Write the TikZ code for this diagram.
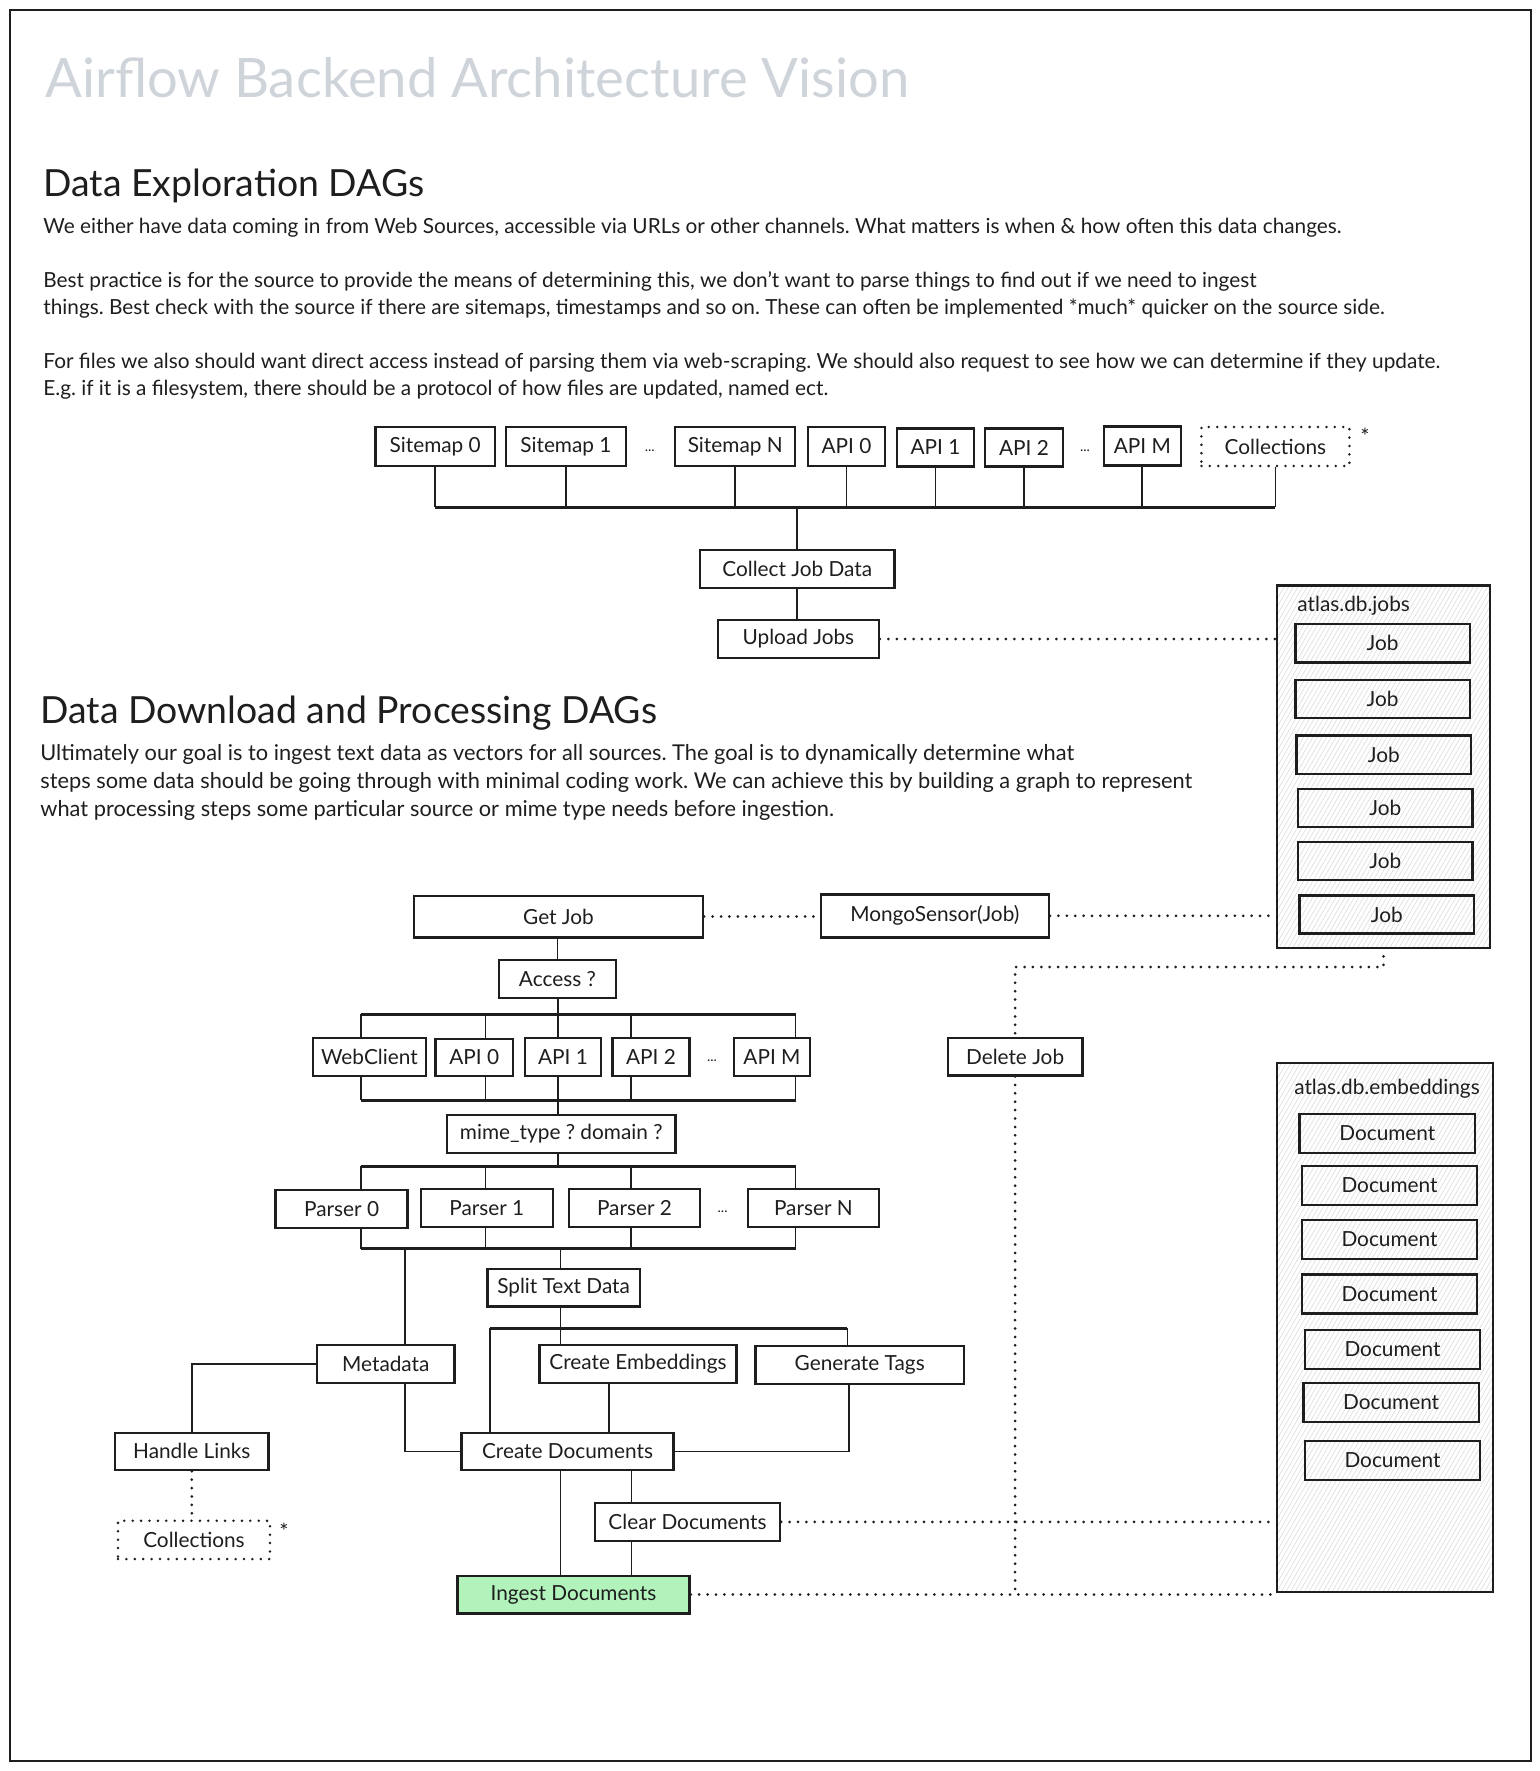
\documentclass[tikz,border=0pt]{standalone}
\usepackage{fontspec}
\setmainfont{Lato}
\usepackage{tikz}
\usetikzlibrary{positioning,calc,patterns.meta}
\definecolor{ink}{HTML}{1E1E1E}
\definecolor{titlegray}{HTML}{CED4DA}
\definecolor{ingest}{HTML}{B2F2BB}
\definecolor{hatch}{HTML}{DEDEDE}
\newcommand\titlefont{\fontsize{27.2pt}{32pt}\selectfont}
\newcommand\headfont{\fontsize{18.7pt}{22pt}\selectfont}
\newcommand\bodyfont{\fontsize{10.4pt}{12.5pt}\selectfont}
\newcommand\introfont{\fontsize{10.9pt}{13pt}\selectfont}
\newcommand\gapfont{\fontsize{7pt}{8pt}\selectfont}
\frenchspacing

\begin{document}
\begin{tikzpicture}[
  x=0.5pt, y=-0.5pt,
  txt/.style = {text=ink, inner sep=0pt, font=\bodyfont},
  box/.style = {
    draw=ink,
    line width=1.2pt,
    text=ink,
    inner sep=0pt,
    font=\bodyfont,
  },
  boxw/.style = {minimum width=#1*0.5pt},
  boxh/.style = {minimum height=#1*0.5pt},
  dotbox/.style = {box, line cap=round, dash pattern=on 0pt off 4.2pt, line width=1.4pt},
  db/.style = {
    draw=ink,
    line width=1.3pt,
    pattern={Lines[angle=60,distance=2pt,line width=0.35pt]},
    pattern color=hatch,
  },
  link/.style = {draw=ink, line width=0.9pt},
  bus/.style = {draw=ink, line width=1.5pt},
  dotline/.style = {draw=ink, line width=1.5pt, line cap=round, dash pattern=on 0pt off 4.2pt},
]

  \useasboundingbox (0,0) rectangle (1540,1771);
  \draw[ink, line width=1pt] (10,10) rectangle (1531,1761);

  % texts
  \node[txt, anchor=base west, text=titlegray, font=\titlefont] (title) at (45,97.5) {Airflow Backend Architecture Vision};
  \node[txt, anchor=base west, font=\headfont] (head1) at (43,196.8) {Data Exploration DAGs};
  \node[txt, anchor=base west] (l1) at (43,234) {We either have data coming in from Web Sources, accessible via URLs or other channels. What matters is when \& how often this data changes.};
  \node[txt, anchor=base west] (l2) at (43,287.3) {Best practice is for the source to provide the means of determining this, we don't want to parse things to find out if we need to ingest};
  \node[txt, anchor=base west] (l3) at (43,314.3) {things. Best check with the source if there are sitemaps, timestamps and so on. These can often be implemented *much* quicker on the source side.};
  \node[txt, anchor=base west] (l4) at (43,368.6) {For files we also should want direct access instead of parsing them via web-scraping. We should also request to see how we can determine if they update.};
  \node[txt, anchor=base west] (l5) at (43,395.6) {E.g. if it is a filesystem, there should be a protocol of how files are updated, named ect.};

  \node[txt, anchor=base west, font=\headfont] (head2) at (40,723.8) {Data Download and Processing DAGs};
  \node[txt, anchor=base west, font=\introfont] (m1) at (40,760) {Ultimately our goal is to ingest text data as vectors for all sources. The goal is to dynamically determine what};
  \node[txt, anchor=base west, font=\introfont] (m2) at (40,788.3) {steps some data should be going through with minimal coding work. We can achieve this by building a graph to represent};
  \node[txt, anchor=base west, font=\introfont] (m3) at (40,816.6) {what processing steps some particular source or mime type needs before ingestion.};

  % exploration sources
  \node[box, boxw=119.3, boxh=39] (s0) at (435.2,446.5) {Sitemap 0};
  \node[box, boxw=120, boxh=39] (s1) at (565.9,446.5) {Sitemap 1};
  \node[txt, font=\gapfont] (gap1) at (649.8,451) {...};
  \node[box, boxw=120, boxh=39] (sN) at (735.2,446.5) {Sitemap N};
  \node[box, boxw=77, boxh=39] (a0) at (846.5,446.5) {API 0};
  \node[box, boxw=77, boxh=38] (a1) at (935.5,447.5) {API 1};
  \node[box, boxw=78, boxh=38] (a2) at (1024,447.5) {API 2};
  \node[txt, font=\gapfont] (gap2) at (1085,451) {...};
  \node[box, boxw=77, boxh=39] (aM) at (1142.3,446) {API M};
  \node[dotbox, boxw=148, boxh=39] (coll) at (1275.4,446.5) {Collections};
  \node[txt, font=\introfont] (star1) at (1365,436) {*};

  \node[box, boxw=194.8, boxh=38.5] (cjd) at (797.2,569) {Collect Job Data};
  \node[box, boxw=160.7, boxh=38.5] (uj) at (798.4,639) {Upload Jobs};

  \coordinate (busA) at (0,507);
  \foreach \n in {s0,s1,sN,a0,a1,a2,aM,coll}
    \draw[link] (\n.south) -- (\n.south |- busA);
  \draw[bus] (s0.south |- busA) -- (coll.south |- busA);
  \draw[link] (cjd.north |- busA) -- (cjd.north);
  \draw[link] (uj.north -| cjd.south) -- (cjd.south);

  % collections of jobs and embeddings
  \node[db, boxw=213, boxh=362.3] (jobs) at (1383.5,766.9) {};
  \node[txt, anchor=west] (jobsl) at (1297,606) {atlas.db.jobs};
  \foreach \i/\x/\y in {1/1382.6/643.2, 2/1382.6/699, 3/1383.8/754.7,
                        4/1385.3/807.9, 5/1385.3/861, 6/1386.8/914.5}
    \node[box, boxw=174.5, boxh=38.3] (job\i) at (\x,\y) {Job};

  \node[db, boxw=216, boxh=529] (emb) at (1385,1327.5) {};
  \node[txt] (embl) at (1387,1089) {atlas.db.embeddings};
  \foreach \i/\x/\y in {1/1387.3/1133.4, 2/1389.5/1185.2, 3/1389.5/1239.5, 4/1389.5/1294,
                        5/1392.5/1349.3, 6/1391.1/1402.5, 7/1392.5/1460.6}
    \node[box, boxw=175.5, boxh=39] (doc\i) at (\x,\y) {Document};

  \draw[dotline] (uj.east) -- (uj.east -| jobs.west);

  % download and processing
  \node[box, boxw=289, boxh=41.6] (gj) at (558.5,916.5) {Get Job};
  \node[box, boxw=228, boxh=43] (ms) at (934.8,915.8) {MongoSensor(Job)};
  \node[box, boxw=117.2, boxh=37.7] (acc) at (557.4,978.9) {Access ?};

  \node[box, boxw=112.9, boxh=37.5] (wc) at (369.4,1057) {WebClient};
  \node[box, boxw=77.2, boxh=37.5] (b0) at (474.2,1057.5) {API 0};
  \node[box, boxw=76.5, boxh=37.5] (b1) at (563,1057) {API 1};
  \node[box, boxw=77.2, boxh=37.5] (b2) at (651,1057) {API 2};
  \node[txt, font=\gapfont] (gap3) at (712,1061) {...};
  \node[box, boxw=76.4, boxh=37.5] (bM) at (772,1057) {API M};

  \node[box, boxw=228.7, boxh=37.7] (mime) at (561.2,1133.9) {mime\_type ? domain ?};

  \node[box, boxw=131.9, boxh=38] (p0) at (341.6,1208.7) {Parser 0};
  \node[box, boxw=131.9, boxh=38] (p1) at (486.8,1208) {Parser 1};
  \node[box, boxw=131.2, boxh=38] (p2) at (634.5,1208) {Parser 2};
  \node[txt, font=\gapfont] (gap4) at (722.6,1212) {...};
  \node[box, boxw=131.2, boxh=38] (pN) at (813.4,1208) {Parser N};

  \node[box, boxw=152.3, boxh=37.7] (split) at (563.6,1287.8) {Split Text Data};
  \node[box, boxw=137.6, boxh=38] (meta) at (385.8,1364) {Metadata};
  \node[box, boxw=197, boxh=38] (ce) at (638,1364) {Create Embeddings};
  \node[box, boxw=208.4, boxh=38] (gt) at (859.7,1365) {Generate Tags};
  \node[box, boxw=153.7, boxh=37.3] (hl) at (191.8,1451.4) {Handle Links};
  \node[box, boxw=211.8, boxh=37.3] (cd) at (567.5,1451.4) {Create Documents};
  \node[dotbox, boxw=152, boxh=38.3] (coll2) at (194,1539.9) {Collections};
  \node[txt, font=\introfont] (star2) at (284,1531) {*};
  \node[box, boxw=185, boxh=38.3] (clr) at (687.5,1521.9) {Clear Documents};
  \node[box, fill=ingest, boxw=232.2, boxh=37.6] (ing) at (573.5,1594.5) {Ingest Documents};
  \node[box, boxw=134.6, boxh=37.6] (dj) at (1015.1,1056.5) {Delete Job};

  \draw[dotline] (gj.east) -- (gj.east -| ms.west);
  \draw[dotline] (ms.east) -- (ms.east -| jobs.west);
  \draw[link] (acc.north |- gj.south) -- (acc.north);

  \coordinate (busB) at (0,1014.3);
  \coordinate (busC) at (0,1100);
  \coordinate (busD) at (0,1166);
  \coordinate (busE) at (0,1248.7);
  \coordinate (busF) at (0,1328.3);

  \foreach \n/\x in {wc/360.6,b0/485.4,b1/557.7,b2/630.7,bM/795.5} {
    \coordinate (t\n) at (\x,1014.3);
    \draw[link] (t\n) -- (t\n |- \n.north);
    \draw[link] (t\n |- \n.south) -- (t\n |- busC);
  }
  \draw[bus] (twc) -- (tbM);
  \draw[bus] (twc |- busC) -- (tbM |- busC);
  \draw[link] (tb1 |- acc.south) -- (tb1);
  \draw[link] (tb1 |- busC) -- (tb1 |- mime.north);
  \draw[link] (tb1 |- mime.south) -- (tb1 |- busD);

  \foreach \n/\x in {p0/360.6,p1/485.4,p2/630.7,pN/795.5} {
    \coordinate (t\n) at (\x,1166);
    \draw[link] (t\n) -- (t\n |- \n.north);
    \draw[link] (t\n |- \n.south) -- (t\n |- busE);
  }
  \draw[bus] (tp0) -- (tpN);
  \draw[bus] (tp0 |- busE) -- (tpN |- busE);

  \coordinate (jm) at (404.8,1248.7);
  \coordinate (js) at (560.5,1248.7);
  \coordinate (je) at (608.9,1383);
  \coordinate (jg) at (848.8,1384);
  \coordinate (jc) at (631.4,1470);
  \coordinate (fL) at (489.7,1328.3);
  \coordinate (fR) at (847.4,1328.3);

  \draw[link] (jm) -- (jm |- meta.north);
  \draw[link] (js) -- (js |- split.north);
  \draw[link] (js |- split.south) -- (js |- busF);
  \draw[bus] (fL) -- (fR);
  \draw[link] (fL) -- (fL |- cd.north);
  \draw[link] (js |- busF) -- (js |- ce.north);
  \draw[link] (fR) -- (fR |- gt.north);
  \draw[link] (meta.west) -| (hl.north);
  \draw[link] (jm |- meta.south) |- (cd.west);
  \draw[link] (je |- ce.south) -- (je |- cd.north);
  \draw[link] (jg |- gt.south) |- (cd.east);
  \draw[dotline] (hl.south) -- (hl.south |- coll2.north);
  \draw[link] (js |- cd.south) -- (js |- ing.north);
  \draw[link] (jc |- cd.south) -- (jc |- clr.north);
  \draw[link] (jc |- clr.south) -- (jc |- ing.north);

  \draw[dotline] (clr.east) -- (clr.east -| emb.west);
  \draw[dotline] (ing.east) -- (ing.east -| emb.west);
  \coordinate (jd) at (1387,967);
  \draw[dotline] ([yshift=-4pt]jobs.south) -- (jobs.south |- jd) -| (dj.north);
  \draw[dotline] (dj.south) -- (dj.south |- ing.east);

\end{tikzpicture}
\end{document}
